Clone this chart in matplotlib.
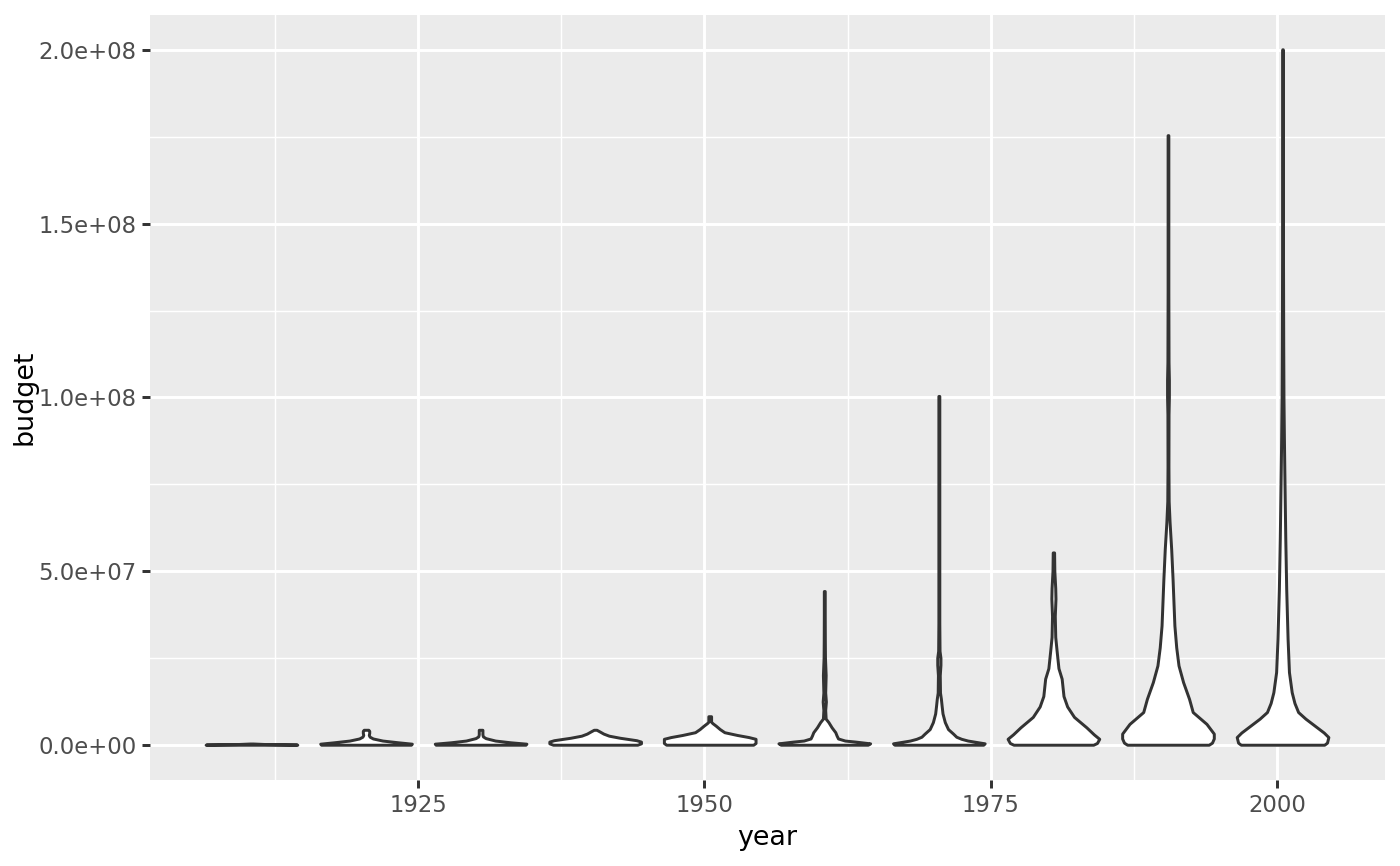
import numpy as np
import matplotlib
matplotlib.use('Agg')
import matplotlib.pyplot as plt
from matplotlib.ticker import FuncFormatter

# violin centres (midrange of each 10-year group)
centres = [1910.5, 1920.5, 1930.5, 1940.5, 1950.5, 1960.5, 1970.5, 1980.5, 1990.5, 2000.5]

# outline of each violin:
# budget levels (millions) and half-width as a share of the widest point
b1910 = [0, 0.1, 0.2, 0.35]
w1910 = [1.0, 0.98, 0.3, 0.03]

b1920 = [0, 0.3, 0.7, 1.2, 1.8, 2.3, 2.8, 3.4, 4.0, 4.3]
w1920 = [0.98, 1.0, 0.7, 0.36, 0.15, 0.08, 0.06, 0.07, 0.07, 0.05]

b1930 = [0, 0.3, 0.7, 1.2, 1.9, 2.4, 3.0, 3.6, 4.3]
w1930 = [0.98, 1.0, 0.65, 0.32, 0.11, 0.05, 0.04, 0.04, 0.04]

b1940 = [0, 0.4, 0.9, 1.3, 2.0, 2.6, 3.2, 3.8, 4.3]
w1940 = [0.92, 1.0, 1.0, 0.9, 0.54, 0.3, 0.18, 0.1, 0.03]

b1950 = [0, 0.5, 1.7, 2.2, 2.8, 3.6, 4.5, 5.5, 6.2, 6.6, 7.5, 8.2]
w1950 = [0.95, 1.0, 1.0, 0.85, 0.6, 0.32, 0.22, 0.13, 0.06, 0.03, 0.03, 0.03]

b1960 = [0, 0.4, 0.9, 1.2, 1.8, 2.6, 3.6, 5.0, 6.5, 7.5, 10, 12.4, 15, 20, 25, 30, 37, 44.2]
w1960 = [0.95, 1.0, 0.68, 0.45, 0.3, 0.27, 0.24, 0.16, 0.09, 0.03, 0.02, 0.035, 0.02, 0.03,
         0.015, 0.012, 0.01, 0.01]

b1970 = [0, 0.4, 1.2, 1.7, 2.3, 3.2, 4.5, 6.5, 9, 11.3, 13.2, 15, 20, 23, 25, 27, 35, 50, 70, 100.3]
w1970 = [0.97, 1.0, 0.63, 0.49, 0.38, 0.31, 0.2, 0.13, 0.08, 0.06, 0.045, 0.025, 0.02, 0.035,
         0.035, 0.015, 0.01, 0.01, 0.01, 0.01]

b1980 = [0, 0.5, 1.7, 3, 5, 8, 11, 14, 19, 22, 27, 31, 37, 42, 45, 50, 55.3]
w1980 = [0.87, 0.95, 1.0, 0.88, 0.72, 0.45, 0.3, 0.22, 0.18, 0.11, 0.07, 0.04, 0.03, 0.045,
         0.04, 0.02, 0.015]

b1990 = [0, 0.6, 1.8, 3.2, 6.0, 9.4, 13.2, 18, 22.8, 28, 34.3, 41, 47.7, 56.3, 64, 70,
         80, 95, 100, 105, 110, 130, 150, 175.3]
w1990 = [0.89, 0.96, 1.0, 1.0, 0.84, 0.54, 0.46, 0.33, 0.23, 0.18, 0.14, 0.12, 0.1, 0.07,
         0.035, 0.015, 0.01, 0.012, 0.02, 0.02, 0.012, 0.008, 0.008, 0.008]

b2000 = [0, 0.6, 2.2, 3.5, 5.5, 7.5, 9.4, 12, 15.1, 20.9, 30.5, 44.8, 59.2, 78,
         88, 100, 115, 130, 150, 175, 200]
w2000 = [0.91, 0.97, 1.0, 0.9, 0.7, 0.5, 0.34, 0.26, 0.2, 0.14, 0.11, 0.08, 0.06, 0.04,
         0.03, 0.02, 0.015, 0.012, 0.008, 0.006, 0.006]

levels = [b1910, b1920, b1930, b1940, b1950, b1960, b1970, b1980, b1990, b2000]
widths = [w1910, w1920, w1930, w1940, w1950, w1960, w1970, w1980, w1990, w2000]

x_breaks = [1925, 1950, 1975, 2000]
x_minor = [1912.5, 1937.5, 1962.5, 1987.5]
y_breaks = [0, 5e7, 1e8, 1.5e8, 2e8]
y_minor = [2.5e7, 7.5e7, 1.25e8, 1.75e8]

half_width = 4.0
ink = '#333333'
lw = 1.07

fig = plt.figure(figsize=(7, 4.33), dpi=200)
ax = fig.add_axes([150 / 1400, 1 - 780 / 866, 1235 / 1400, 765 / 866])
ax.set_facecolor('#EBEBEB')
for s in ax.spines.values():
    s.set_visible(False)

for c, b, w in zip(centres, levels, widths):
    b = np.asarray(b) * 1e6
    w = np.asarray(w) * half_width
    xs = np.concatenate([c - w, (c + w)[::-1]])
    ys = np.concatenate([b, b[::-1]])
    ax.fill(xs, ys, facecolor='white', edgecolor=ink, linewidth=lw,
            joinstyle='round', zorder=3)

# ggplot-style 5% expansion
ymax = max(max(b) for b in levels) * 1e6
ax.set_ylim(-0.05 * ymax, 1.05 * ymax)
xmin = centres[0] - half_width
xmax = centres[-1] + half_width
ax.set_xlim(xmin - 0.05 * (xmax - xmin), xmax + 0.05 * (xmax - xmin))

ax.set_xticks(x_breaks)
ax.set_yticks(y_breaks)
ax.set_xticks(x_minor, minor=True)
ax.set_yticks(y_minor, minor=True)
ax.yaxis.set_major_formatter(FuncFormatter(lambda v, p: f'{v:.1e}'))

ax.grid(which='major', color='white', linewidth=1.07, zorder=1)
ax.grid(which='minor', color='white', linewidth=0.53, zorder=1)
ax.set_axisbelow(True)

ax.tick_params(which='major', length=2.75, width=1.07, color=ink,
               labelsize=8.2, labelcolor='#4D4D4D', pad=2.2)
ax.tick_params(which='minor', length=0)

ax.set_xlabel('year', fontsize=9.7, color='black', labelpad=3)
ax.set_ylabel('budget', fontsize=9.7, color='black', labelpad=0.3)

fig.savefig('out.png', dpi=200, facecolor='white')
